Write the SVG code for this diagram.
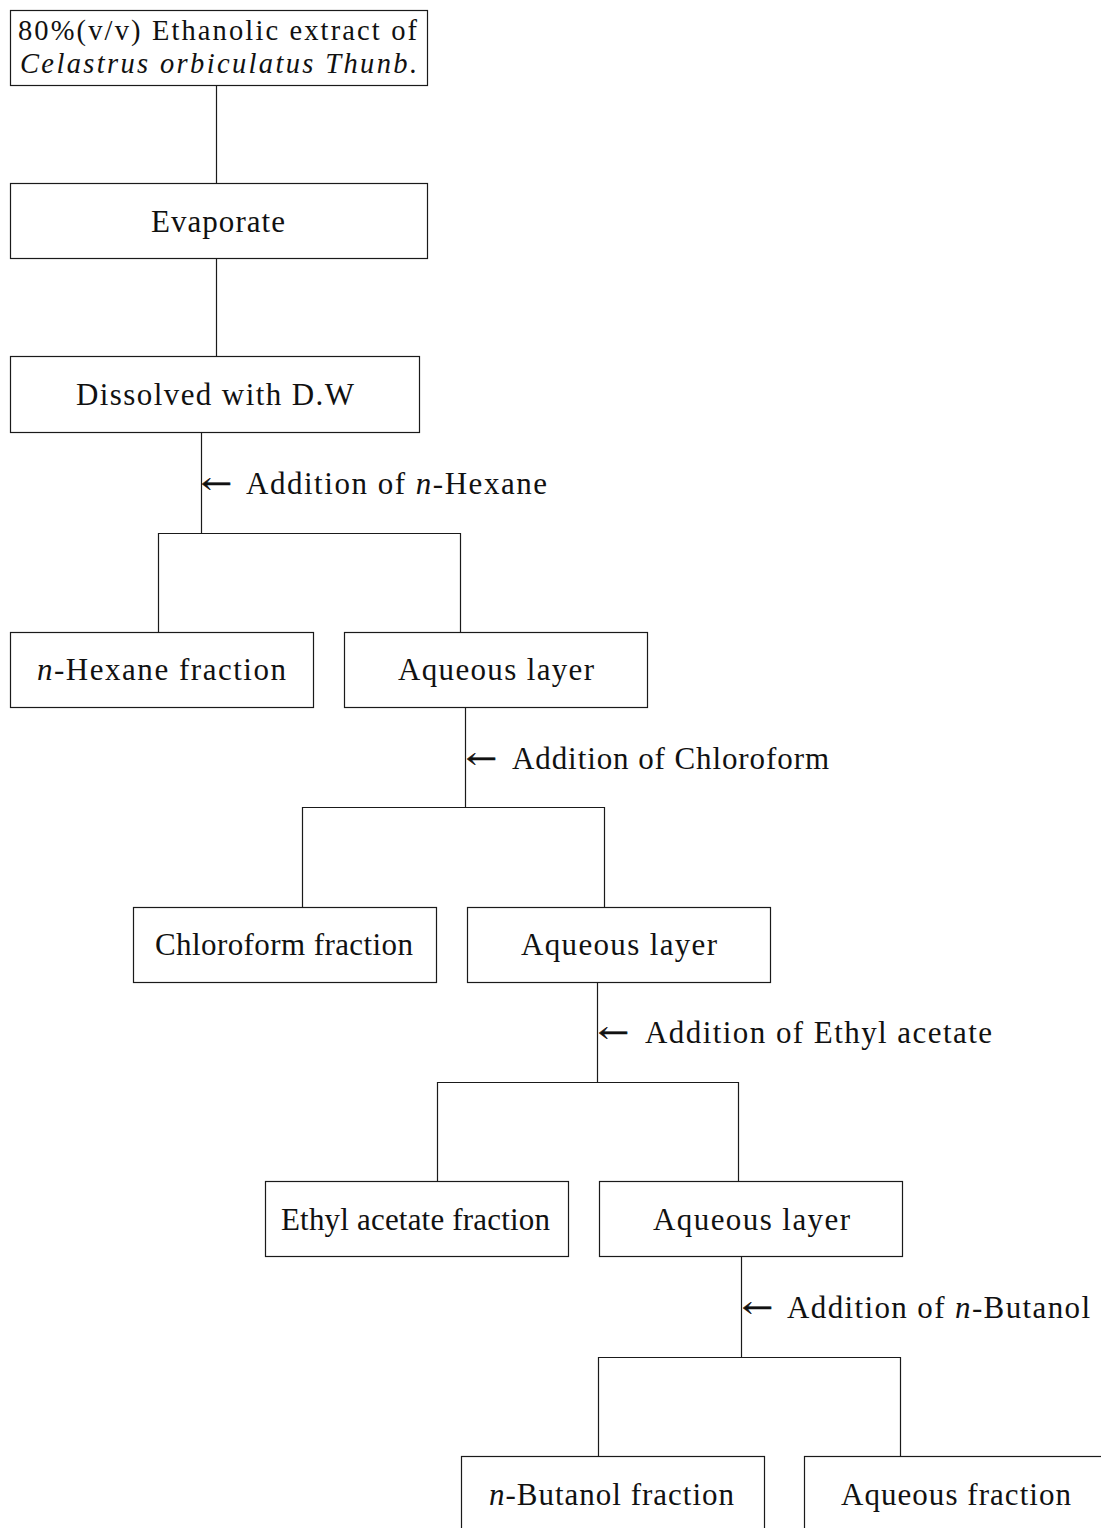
<svg xmlns="http://www.w3.org/2000/svg" width="1101" height="1528" viewBox="0 0 1101 1528">
<style>
.box{fill:#fff;stroke:#1a1a1a;stroke-width:1.2}
.ln{fill:none;stroke:#1a1a1a;stroke-width:1.2}
text{font-family:"Liberation Serif","Times New Roman",serif;font-size:31px;fill:#111}
.t{font-size:28.5px}
.i{font-style:italic}
.ar{font-family:"DejaVu Serif",serif;font-size:28px;stroke:#111;stroke-width:0.6}
</style>
<rect width="1101" height="1528" fill="#fff"/>
<g id="connectors">
<path class="ln" d="M216.5 85V183"/>
<path class="ln" d="M216.5 259V356"/>
<path class="ln" d="M201.5 432V533"/>
<path class="ln" d="M158.5 632V533.5H460.5V632"/>
<path class="ln" d="M465.5 708V807"/>
<path class="ln" d="M302.5 907V807.5H604.5V907"/>
<path class="ln" d="M597.5 982V1082"/>
<path class="ln" d="M437.5 1181V1082.5H738.5V1181"/>
<path class="ln" d="M741.5 1257V1357"/>
<path class="ln" d="M598.5 1456V1357.5H900.5V1456"/>
</g>
<g id="n1"><rect class="box" x="10.5" y="10.5" width="417" height="75"/>
<text class="t" x="18" y="40" textLength="399" lengthAdjust="spacing">80%(v/v) Ethanolic extract of</text>
<text class="t i" x="20" y="73" textLength="397" lengthAdjust="spacing">Celastrus orbiculatus Thunb.</text></g>
<g id="n2"><rect class="box" x="10.5" y="183.5" width="417" height="75"/>
<text x="151" y="232" textLength="134" lengthAdjust="spacing">Evaporate</text></g>
<g id="n3"><rect class="box" x="10.5" y="356.5" width="409" height="76"/>
<text x="76" y="405" textLength="278" lengthAdjust="spacing">Dissolved with D.W</text></g>
<g id="l1"><text class="ar" x="201" y="493" textLength="31" lengthAdjust="spacingAndGlyphs">←</text>
<text x="246" y="494" textLength="301" lengthAdjust="spacing">Addition of <tspan class="i">n</tspan>-Hexane</text></g>
<g id="n4"><rect class="box" x="10.5" y="632.5" width="303" height="75"/>
<text x="37" y="680" textLength="249" lengthAdjust="spacing"><tspan class="i">n</tspan>-Hexane fraction</text></g>
<g id="n5"><rect class="box" x="344.5" y="632.5" width="303" height="75"/>
<text x="398" y="680" textLength="196" lengthAdjust="spacing">Aqueous layer</text></g>
<g id="l2"><text class="ar" x="466" y="768" textLength="31" lengthAdjust="spacingAndGlyphs">←</text>
<text x="512" y="769" textLength="317" lengthAdjust="spacing">Addition of Chloroform</text></g>
<g id="n6"><rect class="box" x="133.5" y="907.5" width="303" height="75"/>
<text x="155" y="955" textLength="258" lengthAdjust="spacing">Chloroform fraction</text></g>
<g id="n7"><rect class="box" x="467.5" y="907.5" width="303" height="75"/>
<text x="521" y="955" textLength="196" lengthAdjust="spacing">Aqueous layer</text></g>
<g id="l3"><text class="ar" x="598" y="1042" textLength="31" lengthAdjust="spacingAndGlyphs">←</text>
<text x="645" y="1043" textLength="347" lengthAdjust="spacing">Addition of Ethyl acetate</text></g>
<g id="n8"><rect class="box" x="265.5" y="1181.5" width="303" height="75"/>
<text x="281" y="1230" textLength="269" lengthAdjust="spacing">Ethyl acetate fraction</text></g>
<g id="n9"><rect class="box" x="599.5" y="1181.5" width="303" height="75"/>
<text x="653" y="1230" textLength="197" lengthAdjust="spacing">Aqueous layer</text></g>
<g id="l4"><text class="ar" x="742" y="1317" textLength="31" lengthAdjust="spacingAndGlyphs">←</text>
<text x="787" y="1318" textLength="303" lengthAdjust="spacing">Addition of <tspan class="i">n</tspan>-Butanol</text></g>
<g id="n10"><rect class="box" x="461.5" y="1456.5" width="303" height="80"/>
<text x="489" y="1505" textLength="245" lengthAdjust="spacing"><tspan class="i">n</tspan>-Butanol fraction</text></g>
<g id="n11"><rect class="box" x="804.5" y="1456.5" width="310" height="80"/>
<text x="841" y="1505" textLength="230" lengthAdjust="spacing">Aqueous fraction</text></g>
</svg>
